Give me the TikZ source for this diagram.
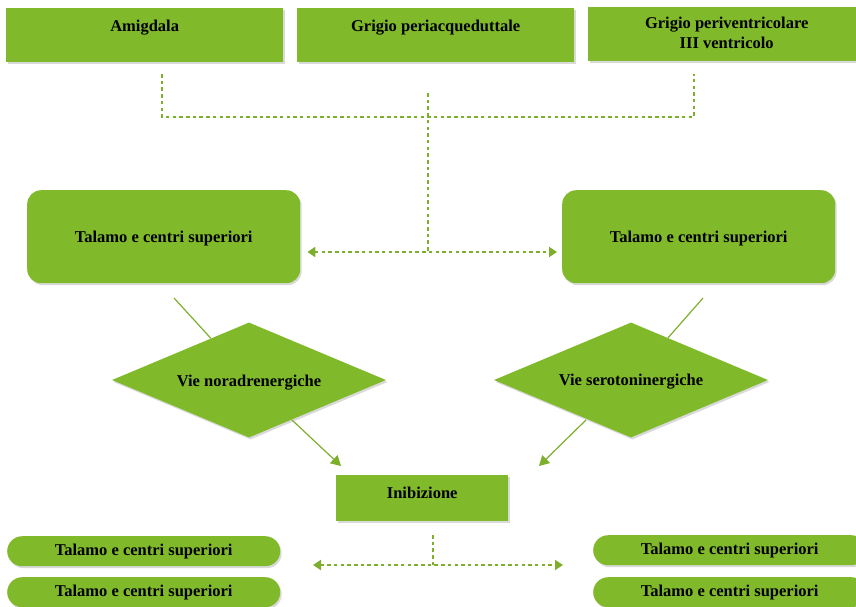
\documentclass[tikz,border=0pt]{standalone}
\usepackage{fontspec}
\setmainfont{Liberation Serif}
\usetikzlibrary{shapes.geometric,arrows.meta,shadows}
\definecolor{leaf}{RGB}{128,185,42}
\definecolor{leafline}{RGB}{125,175,45}
\tikzset{
  shade3/.style={drop shadow={shadow xshift=1.5pt,shadow yshift=-2pt,opacity=0.25,fill=black!60}},
  txt/.style={font=\fontsize{16.5}{19}\selectfont\bfseries,text=black,align=center,inner sep=0pt},
  topbox/.style={fill=leaf,shade3,draw=none,minimum width=277pt,minimum height=54pt,inner sep=0pt},
  midbox/.style={fill=leaf,shade3,draw=none,rounded corners=14pt,minimum width=273pt,minimum height=93pt,inner sep=0pt},
  pathbox/.style={diamond,fill=leaf,shade3,draw=none,minimum width=274pt,minimum height=115pt,inner sep=0pt},
  flatbox/.style={fill=leaf,shade3,draw=none,minimum width=172pt,minimum height=46pt,inner sep=0pt},
  pill/.style={fill=leaf,shade3,draw=none,rounded corners=15pt,minimum width=273pt,minimum height=30pt,inner sep=0pt},
  dots/.style={draw=leafline,line width=2pt,dash pattern=on 3.5pt off 3.2pt},
  dotarrow/.style={dots,{Triangle[width=10pt,length=8pt]}-{Triangle[width=10pt,length=8pt]}},
  solidlink/.style={draw=leafline,line width=1.2pt},
  solidarrow/.style={solidlink,-{Triangle[width=11pt,length=10pt]}},
}
\begin{document}
\begin{tikzpicture}[x=1pt,y=-1pt]
\useasboundingbox (0,0) rectangle (856,606);

% top row of sources
\node[topbox,anchor=north west] (amig) at (6,8) {};
\node[topbox,anchor=north west] (pag) at (297,8) {};
\node[topbox,anchor=north west] (pvg) at (588,7) {};
\node[txt,anchor=north] (amigt) at ([yshift=-12pt]amig.north) {Amigdala};
\node[txt,anchor=north] (pagt) at ([yshift=-12pt]pag.north) {Grigio periacqueduttale};
\node[txt,anchor=north] (pvgt) at ([yshift=-10pt]pvg.north) {Grigio periventricolare\\[1pt]III ventricolo};

% convergence of the three sources
\coordinate (ja) at (162,74);
\coordinate (jc) at (694,74);
\coordinate (jm) at (428,93);
\coordinate (hub) at (428,252);
\draw[dots] (ja) |- (162,117) -- (694,117) -- (jc);
\draw[dots] (jm) -- (hub);

% thalamic targets
\node[midbox,anchor=north west] (thl) at (27,190) {};
\node[midbox,anchor=north west] (thr) at (562,190) {};
\node[txt] (thlt) at ([yshift=-2pt]thl.center) {Talamo e centri superiori};
\node[txt] (thrt) at ([yshift=-2pt]thr.center) {Talamo e centri superiori};
\draw[dotarrow] ([xshift=7pt]thl.east |- hub) -- ([xshift=-5pt]thr.west |- hub);

% descending pathways
\node[pathbox] (nor) at (249,380) {};
\node[pathbox] (ser) at (631,380) {};
\node[txt] (nort) at ([yshift=-2.5pt]nor.center) {Vie noradrenergiche};
\node[txt] (sert) at ([yshift=-1.5pt]ser.center) {Vie serotoninergiche};
\coordinate (sl) at (174,298);
\coordinate (sr) at (703,298);
\draw[solidlink] (sl) -- (nor);
\draw[solidlink] (sr) -- (ser);

% inhibition
\node[flatbox,anchor=north west] (inib) at (336,475) {};
\node[txt] (inibt) at ([yshift=5pt]inib.center) {Inibizione};
\coordinate (nout) at (292,420);
\coordinate (sout) at (586,420);
\draw[solidarrow] (nout) -- (341,466);
\draw[solidarrow] (sout) -- (539,466);

% lower targets
\node[pill,anchor=north west] (bl1) at (7,536) {};
\node[pill,anchor=north west] (bl2) at (7,577) {};
\node[pill,anchor=north west] (br1) at (593,535) {};
\node[pill,anchor=north west] (br2) at (593,577) {};
\node[txt] (bl1t) at (bl1.center) {Talamo e centri superiori};
\node[txt] (bl2t) at (bl2.center) {Talamo e centri superiori};
\node[txt] (br1t) at (br1.center) {Talamo e centri superiori};
\node[txt] (br2t) at (br2.center) {Talamo e centri superiori};
\coordinate (lowtop) at (433,535);
\coordinate (lowhub) at (433,565);
\draw[dots] (lowtop) -- (lowhub);
\draw[dotarrow] (313,565) -- (563,565);
\end{tikzpicture}
\end{document}
